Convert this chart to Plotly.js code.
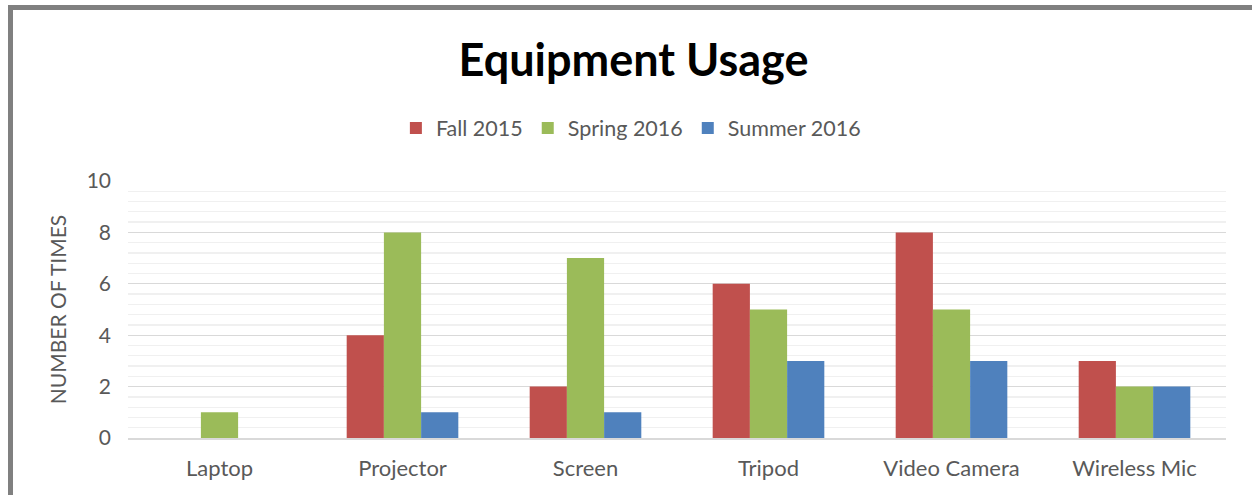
<!DOCTYPE html>
<html><head><meta charset="utf-8">
<script src="https://cdn.plot.ly/plotly-3.0.1.min.js"></script>
<style>
html,body{margin:0;padding:0;background:#fff;}
#frame{position:absolute;left:8px;top:5px;width:1300px;height:600px;border-left:5px solid #808080;border-top:5px solid #808080;box-sizing:border-box;}
#chart{position:absolute;left:0;top:0;width:1252px;height:495px;}
</style></head>
<body>
<div id="frame"></div>
<div id="chart"></div>
<script>
const categories = ["Laptop","Projector","Screen","Tripod","Video Camera","Wireless Mic"];
const fall2015 = [0,4,2,6,8,3];
const spring2016 = [1,8,7,5,5,2];
const summer2016 = [0,1,1,3,3,2];
const seriesNames = ["Fall 2015","Spring 2016","Summer 2016"];
const colors = ["#C0504D","#9BBB59","#4F81BD"];
const font = "Lato, 'Open Sans', sans-serif";
const traces = [fall2015, spring2016, summer2016].map((v,i)=>({
  type:'bar', x:categories, y:v, name:seriesNames[i], marker:{color:colors[i]}
}));
const layout = {
  width:1252, height:495,
  paper_bgcolor:'rgba(0,0,0,0)', plot_bgcolor:'rgba(0,0,0,0)',
  margin:{l:128,r:26,t:181,b:57},
  barmode:'group', bargap:0.39, bargroupgap:0,
  title:{text:'<b>Equipment Usage</b>', x:0.506, xanchor:'center', y:0.878, yanchor:'middle', font:{family:font,size:45,color:'#000'}},
  showlegend:true,
  legend:{orientation:'h', x:0.458, xanchor:'center', y:1.206, yanchor:'middle', font:{family:font,size:21.5,color:'#595959'}, itemwidth:30, traceorder:'normal'},
  xaxis:{tickfont:{family:font,size:22,color:'#595959'}, showline:true, linecolor:'#d9d9d9', linewidth:1.5, ticks:'', ticklabelstandoff:10, fixedrange:true},
  yaxis:{range:[0,10], dtick:2, tickfont:{family:font,size:21,color:'#595959'}, gridcolor:'#d9d9d9', gridwidth:1.3,
    zeroline:false, ticks:'', ticklabelstandoff:16,
    minor:{dtick:0.4, showgrid:true, gridcolor:'#f0f0f0', gridwidth:1.3},
    title:{text:'NUMBER OF TIMES', font:{family:font,size:21,color:'#595959'}, standoff:14}}
};
Plotly.newPlot('chart', traces, layout, {displayModeBar:false, staticPlot:true});
</script>
</body></html>
